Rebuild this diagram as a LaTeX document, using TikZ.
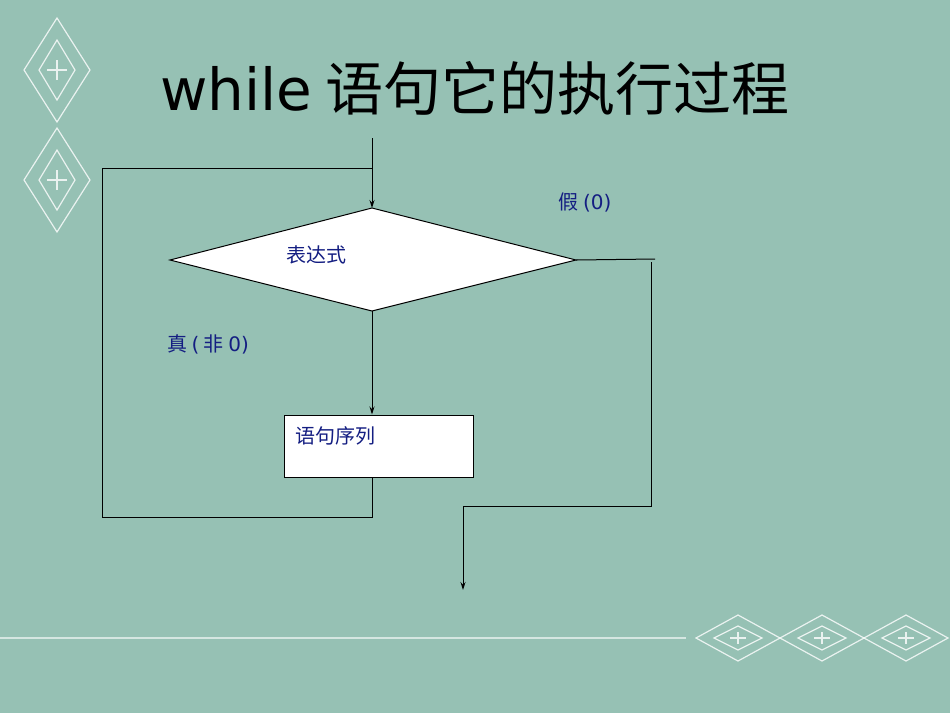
\documentclass[tikz,border=0pt]{standalone}
\usepackage{fontspec}
\setmainfont{DejaVu Sans}
\newfontfamily\cjk{Noto Sans CJK SC}
\usetikzlibrary{arrows.meta}
\definecolor{bg}{RGB}{150,193,180}
\definecolor{lab}{RGB}{20,30,130}
\begin{document}
\begin{tikzpicture}[x=1pt,y=-1pt,
  ln/.style={draw=black,line width=1pt},
  arr/.style={ln,-{Stealth[length=8pt,width=5pt]}},
  lbl/.style={text=lab,font=\cjk\fontsize{20}{24}\selectfont,inner sep=0pt},
  orn/.style={draw=white,line width=1.2pt,opacity=0.8}]
\fill[bg] (0,0) rectangle (950,713);
\useasboundingbox (0,0) rectangle (950,713);
% ornaments
\foreach \cy in {70,180}{
  \draw[orn] (57,\cy-52) -- (90,\cy) -- (57,\cy+52) -- (24,\cy) -- cycle;
  \draw[orn] (57,\cy-30) -- (75,\cy) -- (57,\cy+30) -- (39,\cy) -- cycle;
  \draw[orn] (57,\cy-10) -- (57,\cy+10) (47,\cy) -- (67,\cy);
}
\draw[white,opacity=0.6,line width=1.5pt] (0,638) -- (686,638);
\foreach \cx in {738,822,906}{
  \draw[orn] (\cx-42,638) -- (\cx,615) -- (\cx+42,638) -- (\cx,661) -- cycle;
  \draw[orn] (\cx-24,638) -- (\cx,626) -- (\cx+24,638) -- (\cx,650) -- cycle;
  \draw[orn] (\cx-8,638) -- (\cx+8,638) (\cx,632) -- (\cx,644);
}
% title
\node[font=\cjk\fontsize{58}{64}\selectfont,inner sep=0pt] (title) at (475,88) {{\fontspec{DejaVu Sans}while} 语句它的执行过程};
% shapes
\coordinate (dt) at (372,208);
\coordinate (dl) at (170,260);
\coordinate (dr) at (576,260);
\coordinate (db) at (372,311);
\fill[white] (dt) -- (dr) -- (db) -- (dl) -- cycle;
\draw[ln] (dt) -- (dr) -- (db) -- (dl) -- cycle;
\node[draw=black,line width=1pt,fill=white,minimum width=189pt,minimum height=62pt,inner sep=0pt] (box) at (378.5,446) {};
\coordinate (in) at (372,138);
\draw[arr] (in) -- (dt);
\draw[arr] (db) -- (box.north -| db);
\coordinate (l1) at (372,517);
\coordinate (l2) at (102,517);
\coordinate (l3) at (102,168);
\coordinate (l4) at (372,168);
\draw[ln] (box.south -| db) -- (l1) -- (l2) -- (l3) -- (l4);
\coordinate (r1) at (655,259);
\coordinate (r2) at (651,262);
\coordinate (r3) at (651,506);
\coordinate (r4) at (463,506);
\coordinate (out) at (463,590);
\draw[ln] (dr) -- (r1);
\draw[ln] (r2) -- (r3) -- (r4);
\draw[arr] (r4) -- (out);
% labels
\node[lbl] (lf) at (585,202) {假 {\fontspec{DejaVu Sans}(0)}};
\node[lbl] (le) at (316,255) {表达式};
\node[lbl] (lt) at (208,344) {真 {\fontspec{DejaVu Sans}(} 非 {\fontspec{DejaVu Sans}0)}};
\node[lbl,anchor=west] (ls) at (295,436) {语句序列};
\end{tikzpicture}
\end{document}
